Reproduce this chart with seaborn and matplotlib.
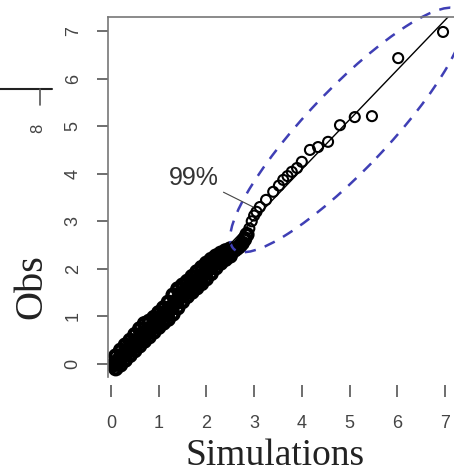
import matplotlib
matplotlib.use("Agg")
import matplotlib.pyplot as plt
import seaborn as sns
import pandas as pd
from matplotlib.patches import Ellipse
from matplotlib.lines import Line2D

# QQ points: simulated quantiles vs observed quantiles (main run)
sim = [0.05, 0.10, 0.15, 0.20, 0.25, 0.30, 0.35, 0.40, 0.45, 0.50,
       0.55, 0.60, 0.65, 0.70, 0.75, 0.80, 0.85, 0.90, 0.95, 1.00,
       1.05, 1.10, 1.15, 1.20, 1.25, 1.30, 1.35, 1.40, 1.45, 1.50,
       1.55, 1.60, 1.65, 1.70, 1.75, 1.80, 1.85, 1.90, 1.95, 2.00,
       2.05, 2.10, 2.15, 2.20, 2.25, 2.30, 2.35, 2.40, 2.45, 2.50,
       2.55, 2.60, 2.65, 2.70, 2.75, 2.80, 2.85, 2.90, 2.95, 3.00,
       3.05, 3.12, 3.25, 3.40, 3.52, 3.61, 3.70, 3.79, 3.90, 4.00,
       4.17, 4.34, 4.55, 4.80, 5.11, 5.47, 6.02, 6.96]
obs = [-0.02, 0.03, 0.08, 0.13, 0.19, 0.24, 0.29, 0.34, 0.39, 0.44,
       0.49, 0.55, 0.60, 0.65, 0.69, 0.73, 0.78, 0.83, 0.88, 0.93,
       0.98, 1.02, 1.06, 1.10, 1.16, 1.23, 1.30, 1.36, 1.42, 1.48,
       1.53, 1.58, 1.63, 1.67, 1.72, 1.76, 1.80, 1.85, 1.90, 1.95,
       2.00, 2.05, 2.10, 2.14, 2.18, 2.22, 2.25, 2.28, 2.31, 2.34,
       2.37, 2.40, 2.44, 2.48, 2.54, 2.62, 2.72, 2.85, 3.00, 3.12,
       3.20, 3.30, 3.45, 3.62, 3.75, 3.87, 3.95, 4.04, 4.12, 4.25,
       4.50, 4.56, 4.67, 5.02, 5.19, 5.21, 6.43, 6.98]

# two further runs that make up the dense lower cloud
sim_b = [0.10, 0.20, 0.30, 0.40, 0.50, 0.60, 0.70, 0.80, 0.90, 1.00,
         1.10, 1.20, 1.30, 1.40, 1.50, 1.60, 1.70, 1.80, 1.90, 2.00,
         2.10, 2.20, 2.30, 2.40, 2.50]
obs_b = [0.17, 0.29, 0.40, 0.50, 0.62, 0.74, 0.85, 0.90, 0.98, 1.08,
         1.18, 1.30, 1.45, 1.58, 1.66, 1.74, 1.84, 1.94, 2.03, 2.12,
         2.20, 2.27, 2.33, 2.38, 2.42]
sim_c = [0.10, 0.20, 0.30, 0.40, 0.50, 0.60, 0.70, 0.80, 0.90, 1.00,
         1.10, 1.20, 1.30, 1.40, 1.50, 1.60, 1.70, 1.80, 1.90, 2.00,
         2.10, 2.20, 2.30, 2.40, 2.50]
obs_c = [-0.10, -0.02, 0.08, 0.18, 0.28, 0.38, 0.48, 0.57, 0.67, 0.77,
         0.86, 0.94, 1.05, 1.18, 1.31, 1.42, 1.51, 1.60, 1.69, 1.79,
         1.90, 2.02, 2.12, 2.20, 2.27]

# fitted reference line end points
ref_sim = [0.0, 7.1]
ref_obs = [-0.09, 7.33]

x_ticks = [0, 1, 2, 3, 4, 5, 6, 7]
y_ticks = [0, 1, 2, 3, 4, 5, 6, 7]
ellipse_label = "99%"

df = pd.concat([
    pd.DataFrame({"Simulations": sim, "Obs": obs, "run": "a"}),
    pd.DataFrame({"Simulations": sim_b, "Obs": obs_b, "run": "b"}),
    pd.DataFrame({"Simulations": sim_c, "Obs": obs_c, "run": "c"}),
], ignore_index=True)
ref = pd.DataFrame({"Simulations": ref_sim, "Obs": ref_obs})

# the crowded part of the plot, where the circles merge into a black band
dense = df[df["Simulations"] < 2.9]
sparse = df[df["Simulations"] >= 2.9]

sns.set_theme(style="white")
plt.rcParams["font.family"] = ["Liberation Sans", "DejaVu Sans"]

fig = plt.figure(figsize=(4.54, 4.75), dpi=100)
ax = fig.add_axes([108 / 454, 98 / 475, 346 / 454, 360 / 475])

sns.scatterplot(data=dense, x="Simulations", y="Obs", ax=ax, marker="o",
                s=64, facecolor="none", edgecolor="black", linewidth=3.0,
                legend=False)
sns.scatterplot(data=sparse, x="Simulations", y="Obs", ax=ax, marker="o",
                s=52, facecolor="none", edgecolor="black", linewidth=1.5,
                legend=False)
sns.lineplot(data=ref, x="Simulations", y="Obs", ax=ax, color="black",
             linewidth=1.0, sort=False, estimator=None)

ell = Ellipse((4.95, 4.92), width=6.9, height=1.7, angle=46.5, fill=False,
              edgecolor="#3f3fb5", linewidth=1.8, linestyle=(0, (4.5, 3.8)),
              clip_on=False)
ax.add_patch(ell)

ax.annotate(ellipse_label, xy=(2.98, 3.30), xytext=(1.74, 3.92),
            ha="center", va="center", fontsize=18, color="#333333",
            arrowprops=dict(arrowstyle="-", color="#444444", lw=0.8,
                            shrinkA=1, shrinkB=0))

ax.set_xlim(-0.063, 7.19)
ax.set_ylim(-0.273, 7.294)
ax.set_xticks(x_ticks)
ax.set_yticks(y_ticks)

for side in ["right", "bottom"]:
    ax.spines[side].set_visible(False)
ax.spines["bottom"].set_position(("outward", 5.8))
for side in ["left", "top"]:
    ax.spines[side].set_color("#777777")
    ax.spines[side].set_linewidth(1.2)

ax.tick_params(axis="x", length=8.6, width=1.2, color="#555555", pad=13,
               labelsize=13, labelcolor="#444444", bottom=True)
ax.tick_params(axis="y", length=7.9, width=1.2, color="#555555", pad=11,
               labelsize=13, labelcolor="#444444", left=True)
for lab in ax.get_yticklabels():
    lab.set_rotation(90)
    lab.set_va("center")

ax.set_xlabel("")
ax.set_ylabel("")
fig.text(275 / 454, 10 / 475, "Simulations", family="Liberation Serif",
         fontsize=27, ha="center", va="baseline", color="#222222")
fig.text(32 / 454, (475 - 287) / 475, "Obs", family="Liberation Serif",
         fontsize=29, ha="center", va="center", rotation=90, color="#222222")

# fragment of the neighbouring panel at the left edge
fig.add_artist(Line2D([0, 52 / 454], [1 - 89 / 475, 1 - 89 / 475],
                      transform=fig.transFigure, color="#222222", lw=1.5))
fig.add_artist(Line2D([40 / 454, 40 / 454], [1 - 89 / 475, 1 - 105 / 475],
                      transform=fig.transFigure, color="#555555", lw=1.2))
fig.text(38 / 454, 1 - 128 / 475, "8", fontsize=12, rotation=90,
         ha="center", va="center", color="#444444")

fig.savefig("out.png", dpi=100)
